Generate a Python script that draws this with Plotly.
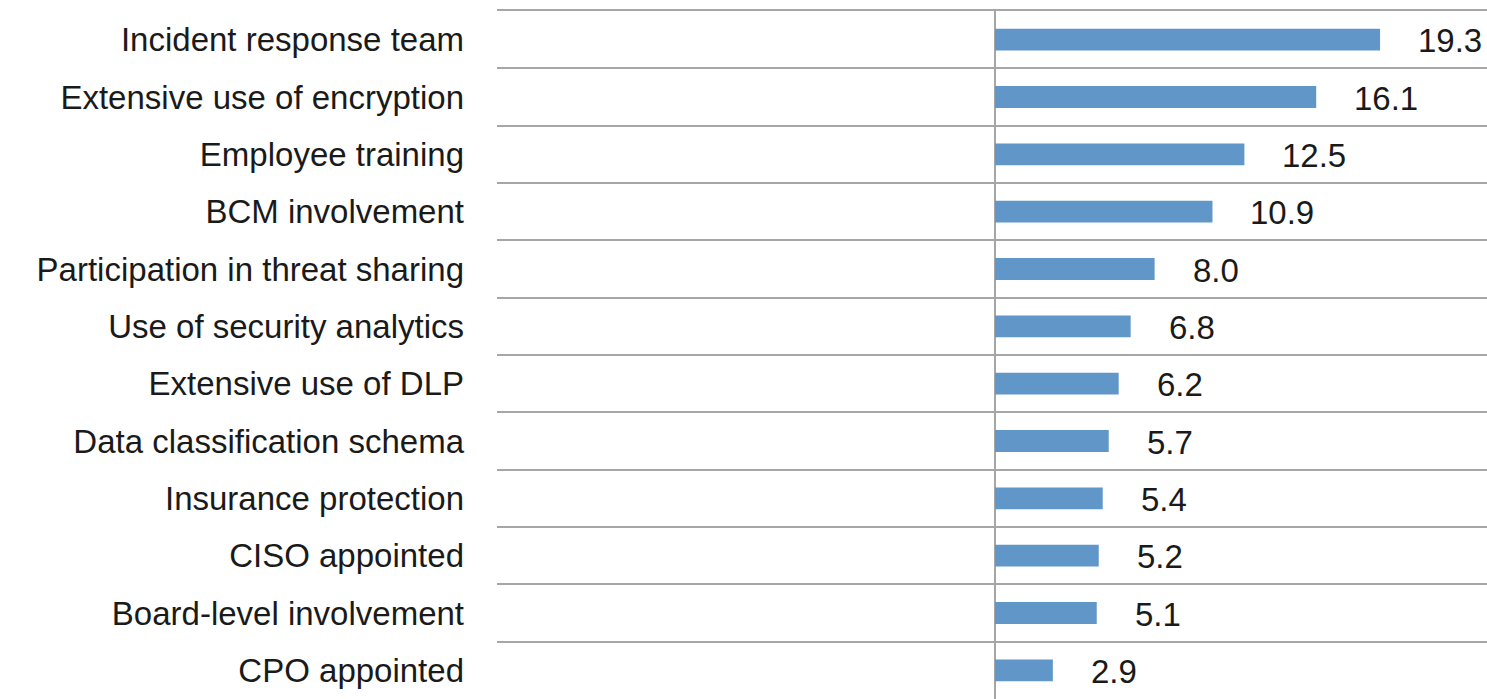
import plotly.graph_objects as go

categories = [
    "Incident response team",
    "Extensive use of encryption",
    "Employee training",
    "BCM involvement",
    "Participation in threat sharing",
    "Use of security analytics",
    "Extensive use of DLP",
    "Data classification schema",
    "Insurance protection",
    "CISO appointed",
    "Board-level involvement",
    "CPO appointed",
]
values = [19.3, 16.1, 12.5, 10.9, 8.0, 6.8, 6.2, 5.7, 5.4, 5.2, 5.1, 2.9]

BAR = "#6196C9"
GRID = "#A6A6A6"
FONT = "Liberation Sans, Arial, sans-serif"
FS = 33

fig = go.Figure()
fig.add_trace(go.Bar(
    x=values, y=categories, orientation="h",
    marker=dict(color=BAR, line=dict(width=0)),
    width=0.38, hoverinfo="x+y",
))

for c, v in zip(categories, values):
    fig.add_annotation(
        x=v, y=c, text=f"{v:.1f}", showarrow=False,
        xanchor="left", yanchor="middle", xshift=36, yshift=-1,
        font=dict(family=FONT, size=FS, color="#1a1a1a"),
    )

fig.update_layout(
    width=1487, height=699,
    margin=dict(l=497, r=0, t=11, b=0),
    paper_bgcolor="white", plot_bgcolor="white",
    showlegend=False,
    font=dict(family=FONT, size=FS, color="#1a1a1a"),
    xaxis=dict(
        range=[-24.96, 24.66], showgrid=False, showticklabels=False, ticks="",
        zeroline=True, zerolinecolor=GRID, zerolinewidth=2,
        side="top", showline=True, linecolor=GRID, linewidth=2,
        fixedrange=True, automargin=False,
    ),
    yaxis=dict(
        type="category", categoryorder="array", categoryarray=categories,
        autorange="reversed", tickson="boundaries",
        showgrid=True, gridcolor=GRID, gridwidth=2,
        showline=False, zeroline=False, ticks="",
        ticklabelstandoff=32, automargin=False, fixedrange=True,
        tickfont=dict(family=FONT, size=FS, color="#1a1a1a"),
    ),
)

fig.write_html(
    "out.html",
    config={"displayModeBar": False},
    post_script="document.body.style.margin='0';document.body.style.overflow='hidden';",
)
